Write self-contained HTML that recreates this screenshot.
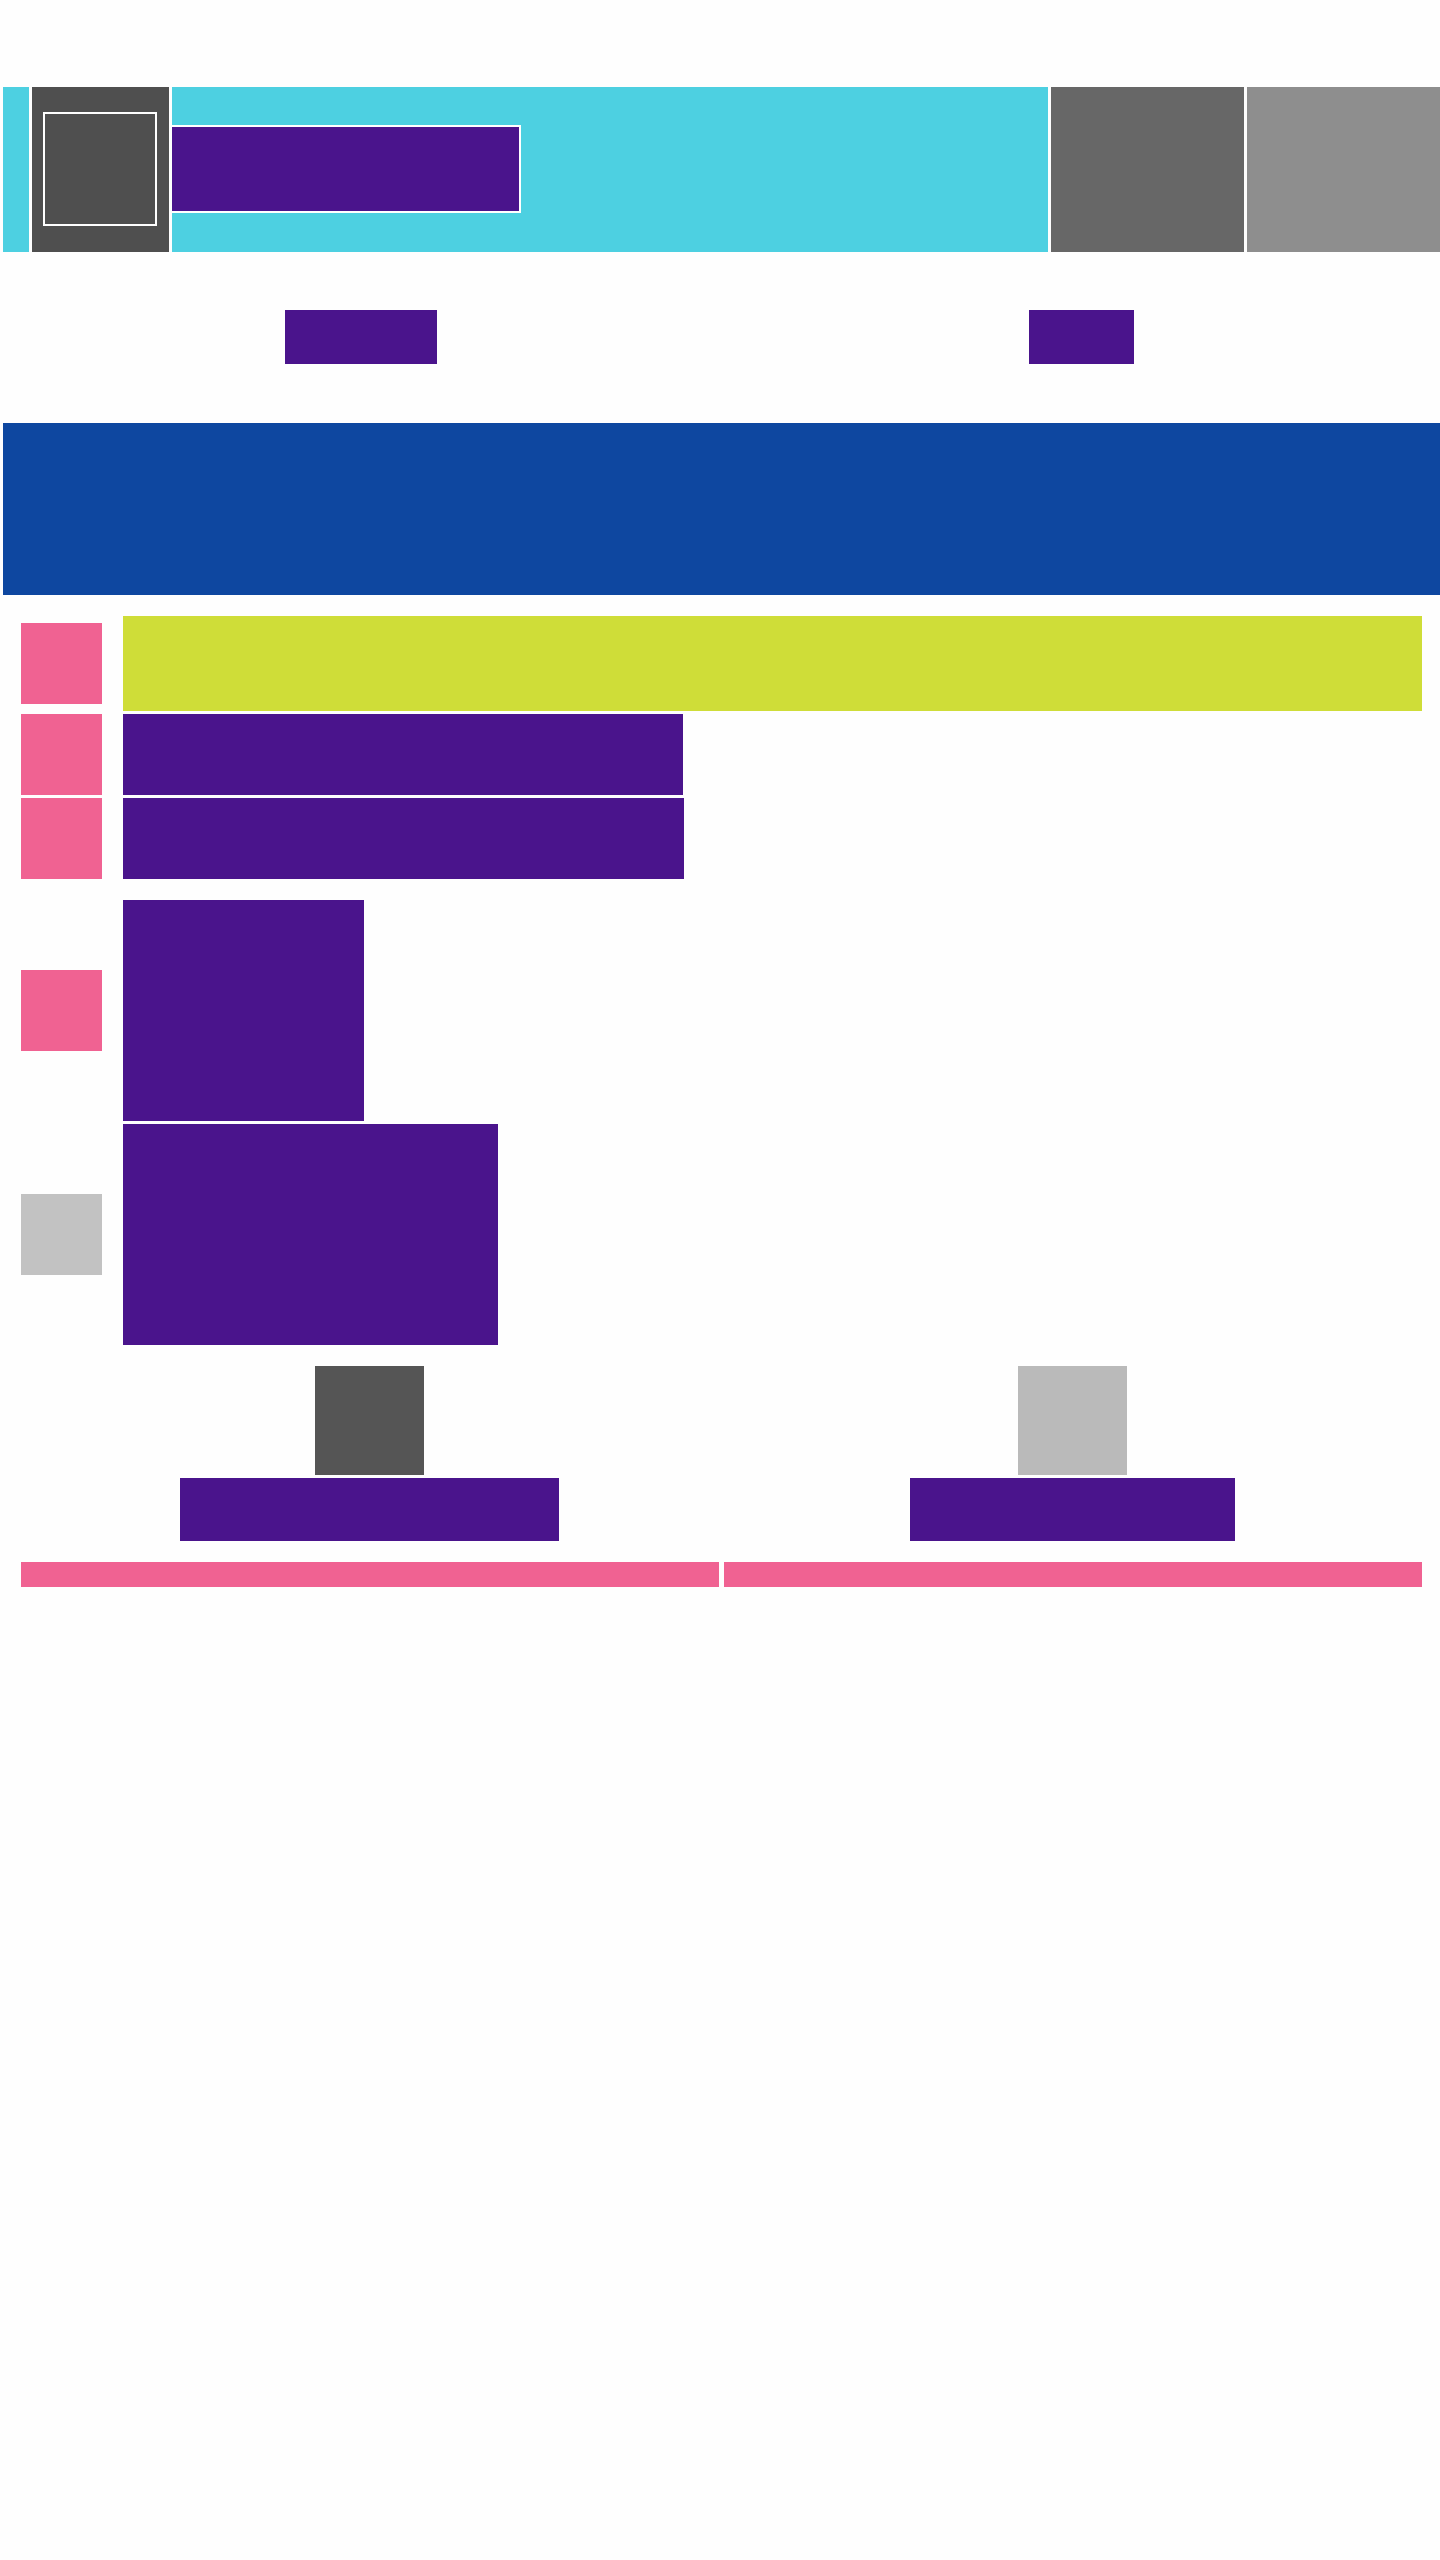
<!DOCTYPE html>
<html><head><meta charset="utf-8"><style>
html,body{margin:0;padding:0;background:#fefefe;}
body{width:1440px;height:2560px;position:relative;overflow:hidden;font-family:"Liberation Sans",sans-serif;}
div{position:absolute;box-sizing:border-box;}
.p{background:#4a148c;}
.k{background:#f06292;}
</style></head><body>
<div style="left:0;top:87px;width:1440px;height:165px;background:#fefefe"></div>
<div style="left:3px;top:87px;width:26px;height:165px;background:#4dd0e1"></div>
<div style="left:32px;top:87px;width:137px;height:165px;background:#4f4f4f"></div>
<div style="left:43px;top:112px;width:114px;height:114px;border:2px solid #fff;background:#4f4f4f"></div>
<div style="left:172px;top:87px;width:876px;height:165px;background:#4dd0e1"></div>
<div class="p" style="left:172px;top:125px;width:349px;height:88px;border:2px solid #fff;border-left:none"></div>
<div style="left:1051px;top:87px;width:193px;height:165px;background:#676767"></div>
<div style="left:1247px;top:87px;width:193px;height:165px;background:#8e8e8e"></div>
<div class="p" style="left:285px;top:310px;width:152px;height:54px"></div>
<div class="p" style="left:1029px;top:310px;width:105px;height:54px"></div>
<div style="left:3px;top:423px;width:1437px;height:172px;background:#0e47a0"></div>
<div class="k" style="left:21px;top:623px;width:81px;height:81px"></div>
<div style="left:123px;top:616px;width:1299px;height:95px;background:#cfdd38"></div>
<div class="k" style="left:21px;top:714px;width:81px;height:81px"></div>
<div class="p" style="left:123px;top:714px;width:560px;height:81px"></div>
<div class="k" style="left:21px;top:798px;width:81px;height:81px"></div>
<div class="p" style="left:123px;top:798px;width:561px;height:81px"></div>
<div class="p" style="left:123px;top:900px;width:241px;height:221px"></div>
<div class="k" style="left:21px;top:970px;width:81px;height:81px"></div>
<div class="p" style="left:123px;top:1124px;width:375px;height:221px"></div>
<div style="left:21px;top:1194px;width:81px;height:81px;background:#c2c2c2"></div>
<div style="left:315px;top:1366px;width:109px;height:109px;background:#555555"></div>
<div style="left:1018px;top:1366px;width:109px;height:109px;background:#bababa"></div>
<div class="p" style="left:180px;top:1478px;width:379px;height:63px"></div>
<div class="p" style="left:910px;top:1478px;width:325px;height:63px"></div>
<div class="k" style="left:21px;top:1562px;width:698px;height:25px"></div>
<div class="k" style="left:724px;top:1562px;width:698px;height:25px"></div>
</body></html>
